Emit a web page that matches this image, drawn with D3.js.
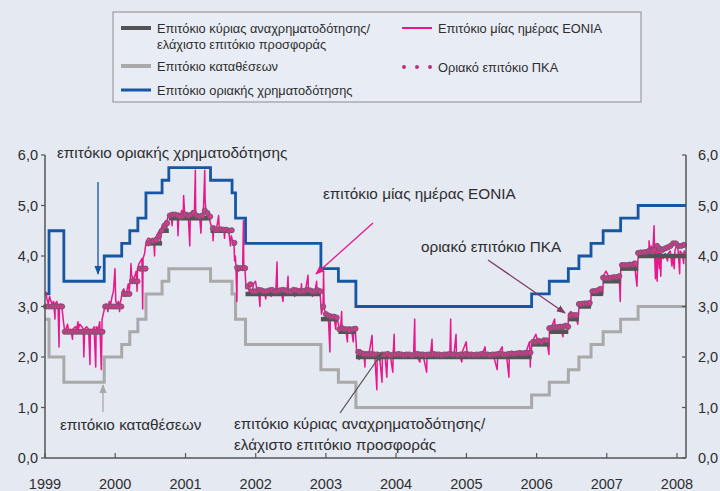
<!DOCTYPE html>
<html><head><meta charset="utf-8">
<script src="https://cdn.jsdelivr.net/npm/d3@7"></script>
<style>html,body{margin:0;padding:0;background:#e5e9f2;} svg{display:block;}</style>
</head><body><svg id="c" width="720" height="491"></svg>
<script>
// ---------- DATA ----------
const yearTicks = [1999,2000,2001,2002,2003,2004,2005,2006,2007,2008];
const yTicks = [0,1,2,3,4,5,6];
const rateDates = ["1999-01-01","1999-01-22","1999-04-09","1999-11-05","2000-02-04","2000-03-17","2000-04-28","2000-06-09","2000-09-01","2000-10-06","2001-05-11","2001-08-31","2001-09-18","2001-11-09","2002-12-06","2003-03-07","2003-06-06","2005-12-06","2006-03-08","2006-06-15","2006-08-09","2006-10-11","2006-12-13","2007-03-14","2007-06-13"];
const mainRate    = [3.0,3.0,2.5,3.0,3.25,3.5,3.75,4.25,4.5,4.75,4.5,4.25,3.75,3.25,2.75,2.5,2.0,2.25,2.5,2.75,3.0,3.25,3.5,3.75,4.0];
const depositRate = [2.75,2.0,1.5,2.0,2.25,2.5,2.75,3.25,3.5,3.75,3.5,3.25,2.75,2.25,1.75,1.5,1.0,1.25,1.5,1.75,2.0,2.25,2.5,2.75,3.0];
const lendingRate = [3.25,4.5,3.5,4.0,4.25,4.5,4.75,5.25,5.5,5.75,5.5,5.25,4.75,4.25,3.75,3.5,3.0,3.25,3.5,3.75,4.0,4.25,4.5,4.75,5.0];
const startDate = "1999-01-01";
const endDate = "2008-02-17";

const eonia = [
["1999-01-04",3.3],["1999-01-11",3.15],["1999-01-18",3.05],["1999-01-25",3.2],["1999-02-01",3.1],["1999-02-08",3.05],["1999-02-15",3.1],["1999-02-22",2.75],["1999-02-23",3.05],["1999-03-03",3.1],["1999-03-10",3.0],["1999-03-15",2.2],["1999-03-17",3.0],["1999-03-24",3.05],["1999-03-31",2.95],["1999-04-07",2.7],["1999-04-12",2.55],
["1999-04-20",2.55],["1999-04-28",2.65],["1999-05-05",2.5],["1999-05-12",2.55],["1999-05-20",2.45],["1999-05-24",2.35],["1999-05-26",2.55],["1999-06-07",2.6],["1999-06-14",2.55],["1999-06-22",2.7],["1999-06-23",2.55],["1999-07-01",2.65],["1999-07-12",2.6],["1999-07-19",2.55],["1999-07-22",2.0],["1999-07-26",2.55],["1999-08-05",2.6],["1999-08-16",2.55],["1999-08-23",1.85],["1999-08-25",2.55],["1999-09-02",2.5],["1999-09-13",2.6],["1999-09-22",1.8],["1999-09-24",2.6],["1999-10-04",2.55],["1999-10-13",2.7],["1999-10-21",1.75],["1999-10-25",2.75],["1999-11-03",2.9],
["1999-11-08",3.0],["1999-11-16",3.05],["1999-11-24",2.9],["1999-12-01",3.1],["1999-12-09",3.05],["1999-12-16",3.2],["1999-12-23",3.3],["1999-12-31",3.75],["2000-01-04",3.1],["2000-01-11",3.05],["2000-01-18",3.1],["2000-01-24",2.9],["2000-01-26",3.05],["2000-02-01",3.15],
["2000-02-07",3.3],["2000-02-15",3.35],["2000-02-23",3.2],["2000-03-01",3.3],["2000-03-09",3.45],["2000-03-14",3.3],
["2000-03-20",3.55],["2000-03-23",3.85],["2000-03-27",3.6],["2000-04-05",3.55],["2000-04-12",3.6],["2000-04-19",3.7],["2000-04-24",3.3],["2000-04-26",3.75],
["2000-05-04",3.85],["2000-05-12",3.9],["2000-05-19",3.95],["2000-05-23",2.95],["2000-05-25",3.95],["2000-06-02",4.05],["2000-06-07",4.2],
["2000-06-12",4.3],["2000-06-20",4.35],["2000-06-27",4.35],["2000-07-05",4.3],["2000-07-12",4.35],["2000-07-19",4.3],["2000-07-24",4.0],["2000-07-26",4.35],["2000-08-03",4.4],["2000-08-10",4.45],["2000-08-18",4.5],["2000-08-23",4.3],["2000-08-28",4.55],
["2000-09-04",4.6],["2000-09-12",4.65],["2000-09-20",4.7],["2000-09-25",4.5],["2000-09-29",4.75],
["2000-10-09",4.8],["2000-10-17",4.85],["2000-10-23",4.6],["2000-10-26",4.85],["2000-11-03",4.8],["2000-11-13",4.85],["2000-11-20",4.75],["2000-11-23",4.4],["2000-11-27",4.85],["2000-12-05",4.8],["2000-12-12",4.9],["2000-12-20",4.85],["2000-12-22",5.2],["2000-12-27",4.85],["2001-01-08",4.85],["2001-01-15",4.8],["2001-01-23",4.2],["2001-01-26",4.8],["2001-02-05",4.9],["2001-02-16",4.85],["2001-02-21",5.7],["2001-02-23",4.85],["2001-03-05",4.8],["2001-03-16",4.75],["2001-03-22",4.45],["2001-03-26",4.8],["2001-04-04",4.9],["2001-04-11",5.7],["2001-04-13",5.1],["2001-04-18",4.85],["2001-04-26",4.8],["2001-05-04",4.75],
["2001-05-14",4.6],["2001-05-22",4.55],["2001-05-24",4.3],["2001-05-28",4.6],["2001-06-06",4.55],["2001-06-14",4.6],["2001-06-22",4.8],["2001-06-25",4.55],["2001-07-04",4.5],["2001-07-12",4.55],["2001-07-20",4.5],["2001-07-23",4.35],["2001-07-26",4.55],["2001-08-06",4.5],["2001-08-15",4.45],["2001-08-23",4.2],["2001-08-27",4.4],
["2001-09-03",4.3],["2001-09-10",4.25],["2001-09-13",3.9],["2001-09-17",4.0],
["2001-09-20",3.8],["2001-09-25",3.1],["2001-09-27",3.75],["2001-10-04",3.7],["2001-10-11",3.75],["2001-10-25",3.75],["2001-10-29",4.7],["2001-10-31",3.8],["2001-11-05",3.8],
["2001-11-12",3.35],["2001-11-20",3.4],["2001-11-28",3.3],["2001-12-05",3.35],["2001-12-14",3.3],["2001-12-21",3.45],["2001-12-31",3.5],["2002-01-08",3.3],["2002-01-15",3.35],["2002-01-23",3.0],["2002-01-25",3.3],["2002-02-05",3.3],["2002-02-15",3.3],["2002-02-22",3.15],["2002-02-26",3.3],["2002-03-06",3.3],["2002-03-18",3.3],["2002-03-22",3.2],["2002-03-26",3.35],["2002-04-04",3.3],["2002-04-16",3.35],["2002-04-22",3.88],["2002-04-24",3.3],["2002-05-06",3.35],["2002-05-14",3.3],["2002-05-23",3.1],["2002-05-27",3.35],["2002-06-06",3.3],["2002-06-14",3.35],["2002-06-18",3.6],["2002-06-20",3.35],["2002-07-08",3.3],["2002-07-18",3.3],["2002-07-23",3.2],["2002-07-25",3.3],["2002-08-06",3.3],["2002-08-16",3.35],["2002-08-23",3.25],["2002-08-27",3.45],["2002-08-29",3.3],["2002-09-06",3.3],["2002-09-16",3.3],["2002-09-30",3.62],["2002-10-02",3.3],["2002-10-16",3.3],["2002-10-23",3.2],["2002-10-25",3.3],["2002-11-05",3.3],["2002-11-14",3.5],["2002-11-16",3.3],["2002-11-26",3.3],["2002-12-03",3.2],
["2002-12-09",2.85],["2002-12-17",3.0],["2002-12-20",3.7],["2002-12-23",2.95],["2003-01-03",2.85],["2003-01-13",2.85],["2003-01-22",2.1],["2003-01-24",2.8],["2003-02-04",2.8],["2003-02-14",2.75],["2003-02-21",2.55],["2003-02-25",2.8],["2003-03-04",2.7],
["2003-03-10",2.6],["2003-03-18",2.55],["2003-03-24",2.9],["2003-03-26",2.55],["2003-04-04",2.6],["2003-04-14",2.55],["2003-04-23",2.3],["2003-04-25",2.55],["2003-05-06",2.6],["2003-05-14",2.55],["2003-05-23",2.3],["2003-05-27",2.6],["2003-06-04",2.5],
["2003-06-09",2.15],["2003-06-18",2.1],["2003-06-23",1.95],["2003-06-27",2.15],["2003-07-08",2.1],["2003-07-18",2.1],["2003-07-23",1.8],["2003-07-25",2.1],["2003-08-05",2.1],["2003-08-15",2.1],["2003-08-29",2.43],["2003-09-01",2.1],["2003-09-12",2.05],["2003-09-23",1.35],["2003-09-25",2.05],["2003-10-06",2.05],["2003-10-20",1.5],["2003-10-22",2.05],["2003-11-05",2.0],["2003-11-14",1.6],["2003-11-17",2.0],["2003-12-01",2.05],["2003-12-15",1.7],["2003-12-17",2.05],["2003-12-22",2.45],["2003-12-24",2.05],["2004-01-08",2.05],["2004-01-19",2.0],["2004-02-02",2.05],["2004-02-16",2.05],["2004-03-04",2.0],["2004-03-10",2.05],["2004-04-01",2.05],["2004-04-07",2.75],["2004-04-09",2.05],["2004-04-20",2.0],["2004-05-04",1.9],["2004-05-06",2.05],["2004-05-20",2.05],["2004-06-08",1.7],["2004-06-10",2.05],["2004-06-28",2.05],["2004-07-06",2.35],["2004-07-08",2.05],["2004-07-26",2.05],["2004-08-16",2.05],["2004-09-06",2.05],["2004-09-20",2.05],["2004-10-07",2.05],["2004-10-11",2.75],["2004-10-13",2.05],["2004-10-28",2.05],["2004-11-08",2.45],["2004-11-10",2.05],["2004-11-25",2.05],["2004-12-08",1.9],["2004-12-10",2.1],["2004-12-31",2.3],["2005-01-04",2.1],["2005-01-20",2.05],["2005-02-08",2.05],["2005-03-01",2.05],["2005-03-22",2.05],["2005-04-08",2.2],["2005-04-11",2.05],["2005-05-02",2.05],["2005-05-20",2.05],["2005-06-10",1.75],["2005-06-13",2.05],["2005-07-06",2.2],["2005-07-08",2.05],["2005-07-28",2.05],["2005-08-10",1.6],["2005-08-12",2.05],["2005-09-05",2.05],["2005-09-26",2.05],["2005-10-14",2.1],["2005-11-03",2.05],["2005-11-25",2.3],["2005-11-28",2.05],["2005-11-29",1.8],["2005-12-01",2.1],["2005-12-05",2.15],
["2005-12-07",2.3],["2005-12-15",2.35],["2005-12-28",2.45],["2006-01-04",2.35],["2006-01-17",2.3],["2006-02-07",2.3],["2006-02-22",2.35],["2006-03-06",2.05],
["2006-03-09",2.55],["2006-03-20",2.6],["2006-04-05",2.75],["2006-04-07",2.6],["2006-04-20",2.6],["2006-05-05",2.6],["2006-05-18",2.4],["2006-05-22",2.6],["2006-06-08",2.6],["2006-06-13",2.55],
["2006-06-16",2.85],["2006-06-28",2.9],["2006-07-10",2.85],["2006-07-20",2.85],["2006-08-03",2.65],["2006-08-07",2.85],
["2006-08-10",3.05],["2006-08-24",3.1],["2006-09-08",3.05],["2006-09-22",3.1],["2006-10-09",3.0],
["2006-10-12",3.3],["2006-10-25",3.35],["2006-11-08",3.3],["2006-11-22",3.35],["2006-12-05",3.3],["2006-12-11",3.25],
["2006-12-14",3.6],["2006-12-28",3.7],["2007-01-10",3.6],["2007-01-24",3.55],["2007-02-07",3.6],["2007-02-21",3.55],["2007-03-07",3.6],["2007-03-12",3.1],
["2007-03-15",3.85],["2007-03-28",3.85],["2007-04-11",3.8],["2007-04-25",3.85],["2007-05-09",3.85],["2007-05-23",3.9],["2007-06-07",3.4],["2007-06-11",3.85],
["2007-06-14",4.05],["2007-06-28",4.1],["2007-07-12",4.05],["2007-07-26",4.1],["2007-08-08",4.1],["2007-08-09",4.3],["2007-08-14",4.05],["2007-08-20",4.2],["2007-08-28",4.05],["2007-09-04",4.6],["2007-09-06",4.1],["2007-09-11",3.55],["2007-09-14",4.15],["2007-09-20",3.5],["2007-09-24",4.15],["2007-10-02",3.75],["2007-10-04",4.1],["2007-10-09",3.6],["2007-10-12",4.05],["2007-10-22",3.95],["2007-11-01",4.05],["2007-11-13",3.9],["2007-11-16",4.05],["2007-11-27",4.1],["2007-12-06",3.8],["2007-12-10",4.0],["2007-12-18",3.75],["2007-12-21",4.1],["2008-01-02",4.25],["2008-01-07",4.1],["2008-01-15",3.65],["2008-01-17",4.1],["2008-01-28",4.05],["2008-02-05",3.85],["2008-02-07",4.1],["2008-02-15",4.05]
];

// marginal tender rate (biweekly observations starting on pkaStart)
const pkaStart = "1999-01-06";
const pkaStepDays = 14;
const pkaValues = [
3,3,3,3,3,3,3,
2.5,2.5,2.5,2.5,2.5,2.5,2.5,2.5,2.5,2.5,2.5,2.5,2.5,2.5,2.5,
3,3,3,3,3,3,3,
3.25,3.25,3.25, 3.5,3.5,3.5, 3.75,3.75,3.75, 4.25,
4.29,4.3,4.32,4.4,4.5, 4.6,4.65,
4.8,4.82,4.82,4.8,4.78,4.8,4.82,4.8,4.82,4.85,4.8,4.78,4.8,4.9,4.85,4.78,
4.55,4.52,4.52,4.53,4.52,4.52,4.5,4.51,
4.26,
3.77,3.76,3.76,3.76,
3.4,3.44,3.3,3.3,3.33,3.32,3.3,3.3,3.32,3.33,3.3,3.3,3.32,3.33,3.32,3.3,3.3,3.33,3.32,3.3,3.3,3.31,3.33,3.32,3.3,3.3,3.32,3.3,
3.0,2.85,2.82,2.8,2.8,2.78,
2.55,2.57,2.55,2.55,2.53,2.55,2.56,
2.1,2.08,2.06,2.05,2.05,2.06,2.05,2.05,2.04,2.05,2.05,2.06,2.03,2.05,2.05,2.06,2.05,2.04,2.05,2.05,2.03,2.05,2.06,2.05,2.05,
2.04,2.05,2.05,2.06,2.05,2.05,2.04,2.05,2.05,2.06,2.05,2.05,2.04,2.05,2.05,2.06,2.05,2.05,2.04,2.05,
2.05,2.06,2.05,2.05,2.04,2.05,2.05,2.06,2.06,2.05,2.05,2.06,2.07,2.06,2.07,2.08,2.07,2.08,2.08,2.09,
2.3,2.3,2.32,2.3,2.33,2.33,
2.57,2.58,2.59,2.59,2.6,2.6,2.62,2.6,
2.82,2.83,2.83,
3.05,3.05,3.06,3.06,3.07,
3.3,3.3,3.32,3.35,
3.57,3.56,3.56,3.57,3.58,3.58,3.6,
3.82,3.82,3.82,3.83,3.83,3.85,
4.06,4.07,4.07,4.08,4.1,4.1,4.12,4.2,4.15,4.12,4.15,4.17,4.2,4.25,4.25,4.2,4.2,4.22
];

const legendItems = [
  {label:["Επιτόκιο κύριας αναχρηματοδότησης/","ελάχιστο επιτόκιο προσφοράς"], kind:"main"},
  {label:["Επιτόκιο καταθέσεων"], kind:"deposit"},
  {label:["Επιτόκιο οριακής χρηματοδότησης"], kind:"lending"},
  {label:["Επιτόκιο μίας ημέρας EONIA"], kind:"eonia"},
  {label:["Οριακό επιτόκιο ΠΚΑ"], kind:"pka"}
];

// ---------- STYLE ----------
const C = {
  main:"#535353", deposit:"#a9a9a9", lending:"#1656a3", eonia:"#e8188c",
  dotFill:"#d9368f", dotStroke:"#6a5a66", text:"#2e2e2e", axis:"#555555", legendDot:"#c0307a"
};
const FONT = "'Liberation Sans', Arial, sans-serif";

const svg = d3.select("#c");
const parse = d3.timeParse("%Y-%m-%d");
const x = d3.scaleTime().domain([parse(startDate), parse(endDate)]).range([45, 686]);
const y = d3.scaleLinear().domain([0,6]).range([458,155]);

svg.append("rect").attr("width",720).attr("height",491).attr("fill","#e5e9f2");

function stepPts(vals){
  const pts = rateDates.map((d,i)=>[parse(d), vals[i]]);
  pts.push([parse(endDate), vals[vals.length-1]]);
  return pts;
}
const stepLine = d3.line().x(d=>x(d[0])).y(d=>y(d[1])).curve(d3.curveStepAfter);

const plot = svg.append("g");
plot.append("path").datum(stepPts(depositRate)).attr("d",stepLine)
  .attr("fill","none").attr("stroke",C.deposit).attr("stroke-width",3);
plot.append("path").datum(stepPts(lendingRate)).attr("d",stepLine)
  .attr("fill","none").attr("stroke",C.lending).attr("stroke-width",2.8);

const eLine = d3.line().x(d=>x(parse(d[0]))).y(d=>y(d[1]));
plot.append("path").datum(eonia).attr("d",eLine)
  .attr("fill","none").attr("stroke",C.eonia).attr("stroke-width",1.5).attr("stroke-linejoin","round");

const mainSegs = rateDates.map((d,i)=>({x0:parse(d), x1: parse(i<rateDates.length-1?rateDates[i+1]:endDate), v:mainRate[i]}));
plot.selectAll("line.main").data(mainSegs).join("line").attr("class","main")
  .attr("x1",d=>x(d.x0)).attr("x2",d=>x(d.x1)).attr("y1",d=>y(d.v)).attr("y2",d=>y(d.v))
  .attr("stroke",C.main).attr("stroke-width",4.5);

const pkaPts = pkaValues.map((v,i)=>({d:d3.timeDay.offset(parse(pkaStart), pkaStepDays*i), v}));
plot.selectAll("circle.pka").data(pkaPts).join("circle").attr("class","pka")
  .attr("cx",d=>x(d.d)).attr("cy",d=>y(d.v)).attr("r",2.6)
  .attr("fill",C.dotFill).attr("stroke",C.dotStroke).attr("stroke-width",0.9);

// ---------- AXES ----------
const fmt = v => d3.format(".1f")(v).replace(".",",");
const axG = svg.append("g").attr("font-family",FONT).attr("fill",C.text);
axG.append("line").attr("x1",45).attr("x2",45).attr("y1",y(6)).attr("y2",y(0)).attr("stroke",C.axis).attr("stroke-width",1.5);
axG.append("line").attr("x1",686).attr("x2",686).attr("y1",y(6)).attr("y2",y(0)).attr("stroke",C.axis).attr("stroke-width",1.5);
axG.append("line").attr("x1",45).attr("x2",686).attr("y1",y(0)).attr("y2",y(0)).attr("stroke",C.axis).attr("stroke-width",1.5);
yTicks.forEach(t=>{
  axG.append("line").attr("x1",41).attr("x2",45).attr("y1",y(t)).attr("y2",y(t)).attr("stroke",C.axis).attr("stroke-width",1.2);
  axG.append("line").attr("x1",682).attr("x2",686).attr("y1",y(t)).attr("y2",y(t)).attr("stroke",C.axis).attr("stroke-width",1.2);
  axG.append("text").attr("x",38).attr("y",y(t)+5).attr("text-anchor","end").attr("font-size",14.5).text(fmt(t));
  axG.append("text").attr("x",698).attr("y",y(t)+5).attr("text-anchor","start").attr("font-size",14.5).text(fmt(t));
});
yearTicks.forEach(t=>{
  const xx = x(parse(t+"-01-01"));
  axG.append("line").attr("x1",xx).attr("x2",xx).attr("y1",y(0)-5).attr("y2",y(0)).attr("stroke",C.axis).attr("stroke-width",1.2);
  axG.append("text").attr("x",xx).attr("y",489).attr("text-anchor","middle").attr("font-size",14.5).text(t);
});

// ---------- ANNOTATIONS ----------
const defs = svg.append("defs");
function marker(id,color){
  defs.append("marker").attr("id",id).attr("viewBox","0 0 10 10").attr("refX",9).attr("refY",5)
    .attr("markerWidth",7).attr("markerHeight",7).attr("orient","auto")
    .append("path").attr("d","M0,1 L10,5 L0,9 Z").attr("fill",color);
}
marker("mBlue",C.lending); marker("mPink",C.eonia); marker("mPurp","#7e3d63"); marker("mGray","#a9a9a9"); marker("mDark","#555");
function arrow(x1,y1,x2,y2,color,m){
  svg.append("line").attr("x1",x1).attr("y1",y1).attr("x2",x2).attr("y2",y2)
    .attr("stroke",color).attr("stroke-width",1.3).attr("marker-end",`url(#${m})`);
}
arrow(98,182,98,274,C.lending,"mBlue");
arrow(373,223,316,274,C.eonia,"mPink");
arrow(488,260,565,313,"#7e3d63","mPurp");
arrow(103,412,103,385,"#a9a9a9","mGray");
arrow(340,413,382,353,"#555","mDark");

const ann = svg.append("g").attr("font-family",FONT).attr("font-size",15.3).attr("fill",C.text);
ann.append("text").attr("x",57).attr("y",158).text("επιτόκιο οριακής χρηματοδότησης");
ann.append("text").attr("x",323).attr("y",199).text("επιτόκιο μίας ημέρας EONIA");
ann.append("text").attr("x",421).attr("y",252).text("οριακό επιτόκιο ΠΚΑ");
ann.append("text").attr("x",60).attr("y",430).text("επιτόκιο καταθέσεων");
ann.append("text").attr("x",234).attr("y",429).text("επιτόκιο κύριας αναχρηματοδότησης/");
ann.append("text").attr("x",234).attr("y",450).text("ελάχιστο επιτόκιο προσφοράς");

// ---------- LEGEND ----------
const lg = svg.append("g").attr("font-family",FONT).attr("font-size",12.8).attr("fill",C.text);
lg.append("rect").attr("x",113).attr("y",12).attr("width",528).attr("height",90)
  .attr("fill","#e8ecf4").attr("stroke","#8c8c8c").attr("stroke-width",1);
const slots = {main:[121,28],deposit:[121,66],lending:[121,90],eonia:[402,28],pka:[402,67]};
legendItems.forEach(it=>{
  const [sx,sy] = slots[it.kind];
  if(it.kind==="pka"){
    [0,13,26].forEach(o=>lg.append("circle").attr("cx",sx+2+o).attr("cy",sy).attr("r",2).attr("fill",C.legendDot));
  } else {
    const col = {main:C.main,deposit:C.deposit,lending:C.lending,eonia:C.eonia}[it.kind];
    const sw = {main:4,deposit:4,lending:3,eonia:2}[it.kind];
    lg.append("line").attr("x1",sx).attr("x2",sx+30).attr("y1",sy).attr("y2",sy).attr("stroke",col).attr("stroke-width",sw);
  }
  const tx = sx + 36;
  it.label.forEach((l,k)=>lg.append("text").attr("x",tx).attr("y",sy+4.5+k*16).text(l));
});
</script></body></html>
